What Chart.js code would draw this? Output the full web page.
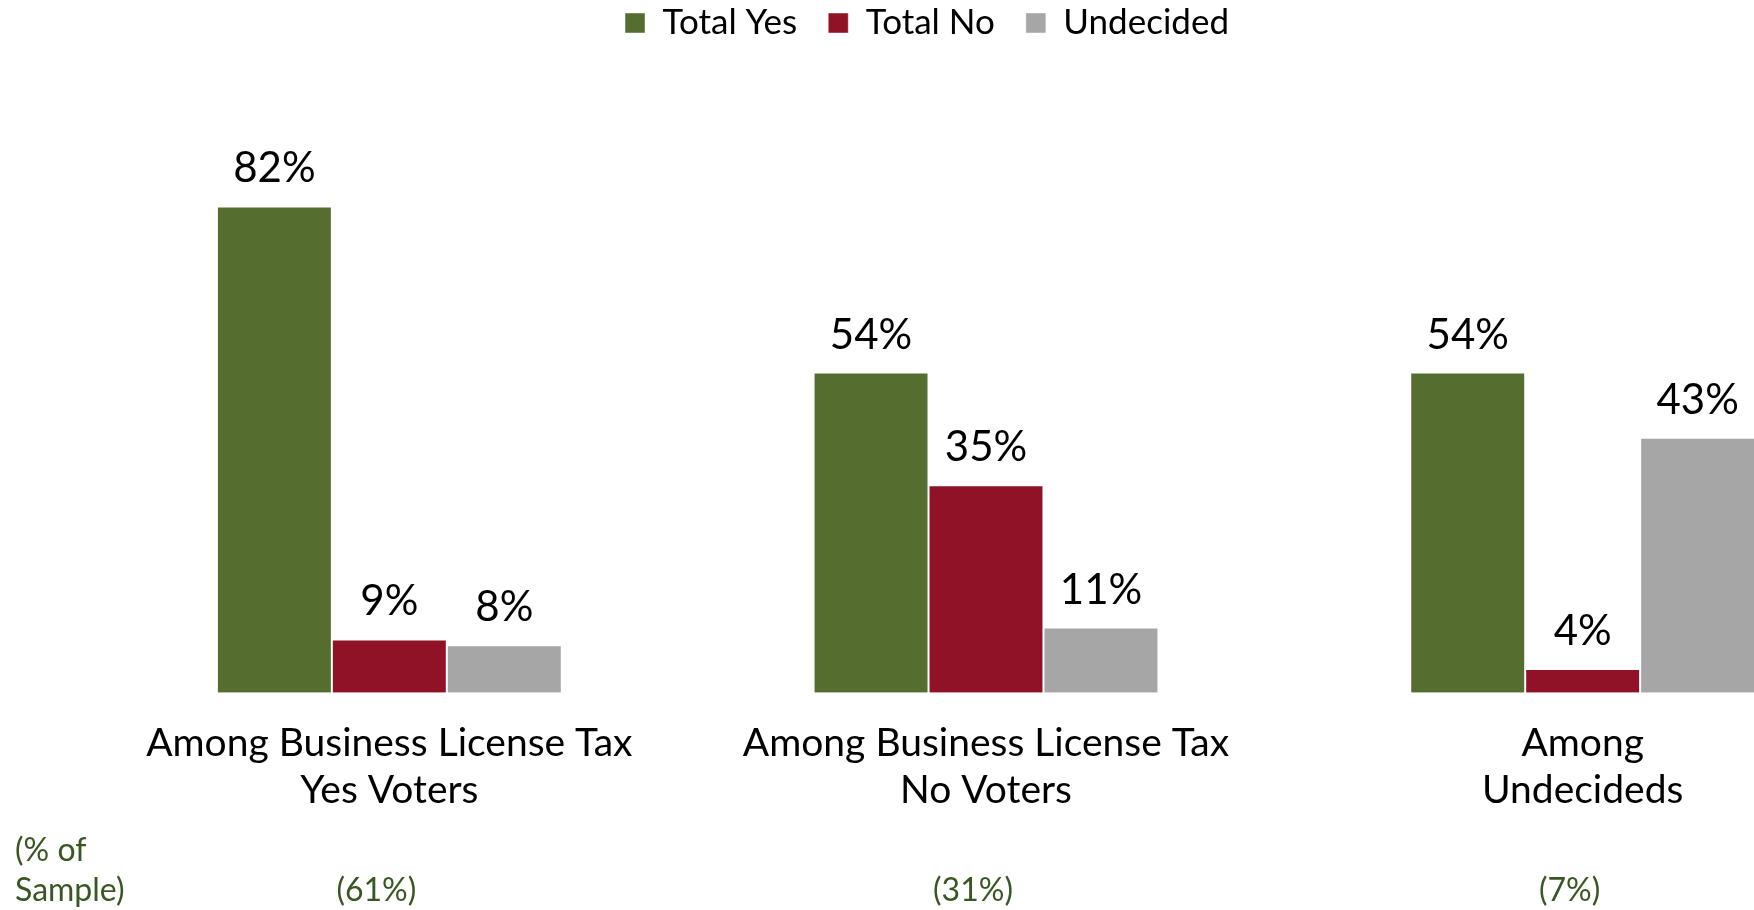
<!DOCTYPE html>
<html><head><meta charset="utf-8">
<script src="https://cdn.jsdelivr.net/npm/chart.js@4.4.1/dist/chart.umd.min.js"></script>
<style>
html,body{margin:0;padding:0;background:#fff;overflow:hidden;width:1754px;height:910px}
#wrap{position:absolute;left:0;top:0;width:1890px;height:910px}
</style>
</head><body><div id="wrap"><canvas id="c"></canvas></div>
<script>
// ---- data ----
const categories = [["Among Business License Tax","Yes Voters"],["Among Business License Tax","No Voters"],["Among","Undecideds"]];
const sampleLabels = ["(61%)","(31%)","(7%)"];
const sampleTitle = ["(% of","Sample)"];
const seriesNames = ["Total Yes","Total No","Undecided"];
const totalYes = [82,54,54];
const totalNo = [9,35,4];
const undecided = [8,11,43];
const seriesColors = ["#556E30","#901226","#A6A6A6"];
const FONT = "Lato, 'Open Sans', sans-serif";
const GREEN_TEXT = "#385723";

// place the legend where the reference has it
const legendPlace = {
  id:'legendPlace',
  afterLayout(chart, args, o){
    const l = chart.legend; if(!l) return;
    const dx = o.centerX - (l.left + l.right)/2;
    const pad = l.options.labels.padding;
    const fs = l.options.labels.font.size;
    const ih = Math.max(fs, l.options.labels.boxHeight || fs);
    const newTop = o.centerY - pad - ih/2;
    const dy = newTop - l.top;
    l.left += dx; l.right += dx; l.top += dy; l.bottom += dy;
  }
};
const valueLabels = {
  id:'valueLabels',
  afterDatasetsDraw(chart, args, o){
    const ctx = chart.ctx; ctx.save();
    ctx.font = o.size + 'px ' + FONT; ctx.fillStyle = o.color;
    ctx.textAlign = 'center'; ctx.textBaseline = 'alphabetic';
    chart.data.datasets.forEach((ds,i)=>{
      chart.getDatasetMeta(i).data.forEach((bar,j)=>{
        ctx.fillText(ds.data[j] + '%', bar.x, bar.y - o.offset);
      });
    });
    ctx.restore();
  }
};
const sideTitle = {
  id:'sideTitle',
  afterDraw(chart, args, o){
    const ctx = chart.ctx, s = chart.scales.x2; ctx.save();
    ctx.font = o.size + 'px ' + FONT; ctx.fillStyle = o.color;
    ctx.textAlign = 'left'; ctx.textBaseline = 'middle';
    const y2 = s.top + s.options.ticks.padding + o.size*1.2/2;
    const lines = o.lines;
    lines.forEach((t,k)=>{ ctx.fillText(t, o.x, y2 - (lines.length-1-k)*o.lineGap); });
    ctx.restore();
  }
};

new Chart(document.getElementById('c'), {
  type:'bar',
  data:{
    labels: categories,
    datasets:[
      {label:seriesNames[0], data:totalYes, backgroundColor:seriesColors[0]},
      {label:seriesNames[1], data:totalNo, backgroundColor:seriesColors[1]},
      {label:seriesNames[2], data:undecided, backgroundColor:seriesColors[2]}
    ]
  },
  options:{
    responsive:true, maintainAspectRatio:false, animation:false,
    layout:{padding:{left:91,right:9,top:0,bottom:0}},
    datasets:{bar:{barPercentage:1, categoryPercentage:0.578, borderWidth:1, borderColor:'rgba(255,255,255,0.45)'}},
    scales:{
      x:{weight:0, offset:true, grid:{display:false, drawTicks:false}, border:{display:false},
         ticks:{color:'#000', padding:27.6, maxRotation:0, autoSkip:false, font:{family:FONT, size:39, lineHeight:1.2}}},
      x2:{type:'category', labels:sampleLabels, position:'bottom', weight:1, offset:true,
         grid:{display:false, drawTicks:false}, border:{display:false},
         afterFit(scale){ scale.height = 68.4; },
         ticks:{color:GREEN_TEXT, padding:30, labelOffset:-13, maxRotation:0, autoSkip:false, font:{family:FONT, size:32, lineHeight:1.2}}},
      y:{display:false, min:0, max:104}
    },
    plugins:{
      legend:{position:'top', labels:{color:'#000', boxWidth:20, boxHeight:20, padding:31, font:{family:FONT, size:35}}},
      tooltip:{enabled:false},
      legendPlace:{centerX:927, centerY:23},
      valueLabels:{size:42, color:'#000', offset:24},
      sideTitle:{size:32, color:GREEN_TEXT, x:15, lineGap:40, lines:sampleTitle}
    }
  },
  plugins:[legendPlace, valueLabels, sideTitle]
});
</script>
</body></html>
